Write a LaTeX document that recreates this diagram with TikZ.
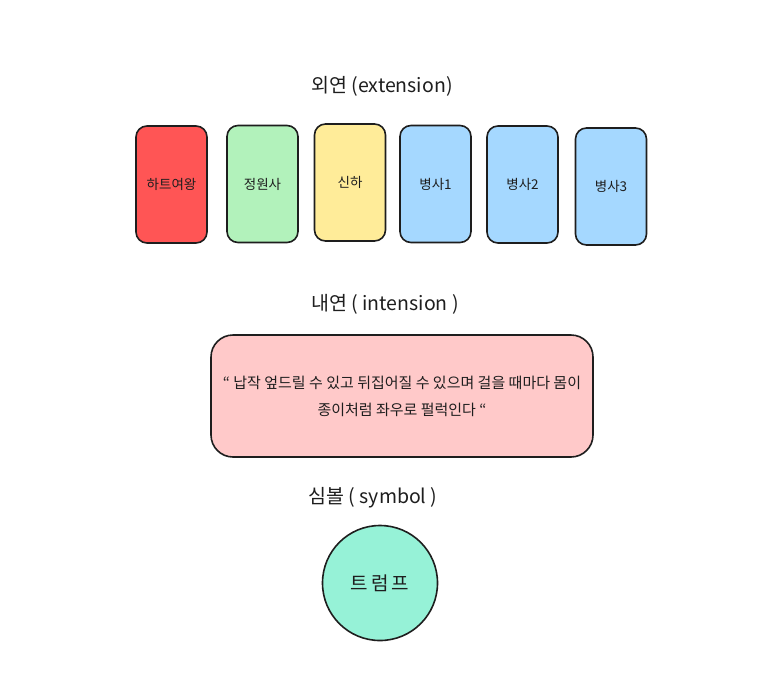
\documentclass[tikz,border=0pt]{standalone}
\usepackage{fontspec}
\setmainfont{Noto Sans CJK KR}
\definecolor{cred}{HTML}{FF5555}
\definecolor{cgreen}{HTML}{B2F2BB}
\definecolor{cyellow}{HTML}{FFEC99}
\definecolor{cblue}{HTML}{A5D8FF}
\definecolor{cpink}{HTML}{FFC9C9}
\definecolor{cteal}{HTML}{96F2D7}
\definecolor{cstroke}{HTML}{1E1E1E}
\tikzset{
  card/.style={draw=cstroke, line width=1.6pt, rounded corners=11pt, minimum width=71pt, minimum height=117pt, inner sep=0pt, font=\fontsize{13.5}{15}\selectfont, text=cstroke},
  heading/.style={font=\fontsize{19.5}{22}\selectfont, text=cstroke},
  quotebox/.style={draw=cstroke, line width=1.6pt, rounded corners=22pt, fill=cpink, minimum width=382pt, minimum height=122pt, align=center, font=\fontsize{15}{27}\selectfont, text=cstroke},
  symbolcircle/.style={circle, draw=cstroke, line width=1.6pt, fill=cteal, minimum size=115pt, inner sep=0pt, font=\fontsize{19}{22}\selectfont, text=cstroke}
}
\begin{document}
\begin{tikzpicture}[x=1pt,y=-1pt]
\useasboundingbox[fill=white] (0,0) rectangle (778,694);
\node[heading] (ext) at (382,86) {외연 (extension)};
\node[card, fill=cred] (c1) at (171.5,184.5) {하트여왕};
\node[card, fill=cgreen] (c2) at (262.5,184) {정원사};
\node[card, fill=cyellow] (c3) at (350,182.5) {신하};
\node[card, fill=cblue] (c4) at (435.5,184) {병사1};
\node[card, fill=cblue] (c5) at (522.5,184.5) {병사2};
\node[card, fill=cblue] (c6) at (611,186.5) {병사3};
\node[heading] (int) at (385,304) {내연 ( intension )};
\node[quotebox] (q) at (402,396) {“ 납작 엎드릴 수 있고 뒤집어질 수 있으며 걸을 때마다 몸이\\종이처럼 좌우로 펄럭인다 “};
\node[heading] (sym) at (373,498) {심볼 ( symbol )};
\node[symbolcircle] (tr) at (380,583) {트\,럼\,프};
\end{tikzpicture}
\end{document}
